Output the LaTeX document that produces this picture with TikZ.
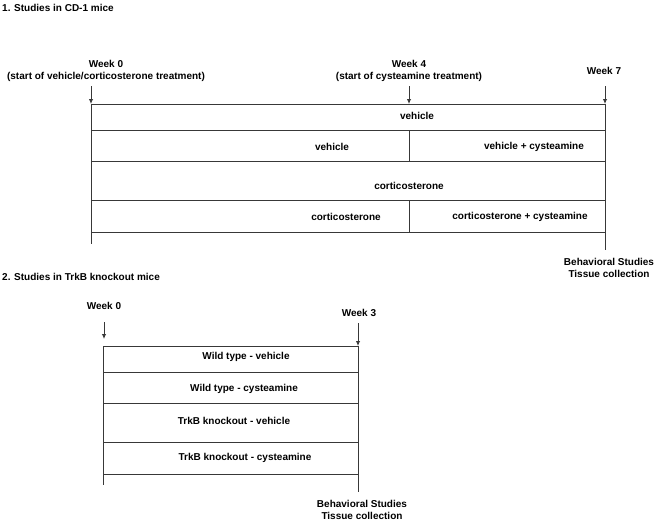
\documentclass[tikz,border=0pt]{standalone}
\usepackage{fontspec}
\setmainfont{Liberation Sans}
\usetikzlibrary{arrows,arrows.meta,positioning}
\tikzset{
  heading/.style={
      anchor=west,
      inner sep=0pt,
      font=\bfseries\fontsize{10}{12}\selectfont
  },
  txt/.style={
      inner sep=0pt,
      align=center,
      font=\bfseries\fontsize{10}{12.5}\selectfont
  },
  rule/.style={
      draw=black!78,
      line width=0.9pt
  },
  weekarrow/.style={
      rule,
      -{Latex[length=5pt,width=4.5pt]}
  }
}

\begin{document}
\begin{tikzpicture}[x=1pt,y=-1pt]
    \useasboundingbox (0,0) rectangle (661,523);
    % 1. Studies in CD-1 mice
    \node[heading] (title1) at (2,8) {1. Studies in CD-1 mice};
    \node[txt] (wk0) at (106,71) {Week 0\\(start of vehicle/corticosterone treatment)};
    \node[txt] (wk4) at (409,71) {Week 4\\(start of cysteamine treatment)};
    \node[txt] (wk7) at (604,71) {Week 7};
    \coordinate (wk0top) at (91,86);
    \coordinate (wk4top) at (409,86);
    \coordinate (wk7top) at (605,86);
    \foreach \y [count=\i] in {104,130,161,200,232} {
      \coordinate (tl\i) at (91,\y);
      \coordinate (tm\i) at (409,\y);
      \coordinate (tr\i) at (605,\y);
    }
    \coordinate (tlend) at (91,244);
    \coordinate (trend) at (605,250);
    \draw[weekarrow] (wk0top) -- (tl1);
    \draw[weekarrow] (wk4top) -- (tm1);
    \draw[weekarrow] (wk7top) -- (tr1);
    \draw[rule] (tl1) -- (tlend);
    \draw[rule] (tr1) -- (trend);
    \foreach \i in {1,...,5} \draw[rule] (tl\i) -- (tr\i);
    \draw[rule] (tm2) -- (tm3);
    \draw[rule] (tm4) -- (tm5);
    \node[txt] (veh) at (417,116) {vehicle};
    \node[txt] (vehA) at (332,147) {vehicle};
    \node[txt] (vehB) at (534,147) {vehicle + cysteamine};
    \node[txt] (cort) at (409,186) {corticosterone};
    \node[txt] (cortA) at (346,217) {corticosterone};
    \node[txt] (cortB) at (520,217) {corticosterone + cysteamine};
    \node[txt] (end1) at (609,268) {Behavioral Studies\\Tissue collection};
    % 2. Studies in TrkB knockout mice
    \node[heading] (title2) at (2,277) {2. Studies in TrkB knockout mice};
    \node[txt] (kw0) at (104,306) {Week 0};
    \node[txt] (kw3) at (359,313) {Week 3};
    \coordinate (kw0top) at (104,322);
    \coordinate (kw0tip) at (104,339);
    \coordinate (kw3top) at (358,323);
    \foreach \y [count=\i] in {346,372,403,442,474} {
      \coordinate (bl\i) at (103,\y);
      \coordinate (br\i) at (358,\y);
    }
    \coordinate (blend) at (103,485);
    \coordinate (brend) at (358,492);
    \draw[weekarrow] (kw0top) -- (kw0tip);
    \draw[weekarrow] (kw3top) -- (br1);
    \draw[rule] (bl1) -- (blend);
    \draw[rule] (br1) -- (brend);
    \foreach \i in {1,...,5} \draw[rule] (bl\i) -- (br\i);
    \node[txt] (wtv) at (246,357) {Wild type - vehicle};
    \node[txt] (wtc) at (244,389) {Wild type - cysteamine};
    \node[txt] (kov) at (234,421) {TrkB knockout - vehicle};
    \node[txt] (koc) at (245,458) {TrkB knockout - cysteamine};
    \node[txt] (end2) at (362,510) {Behavioral Studies\\Tissue collection};
\end{tikzpicture}
\end{document}
